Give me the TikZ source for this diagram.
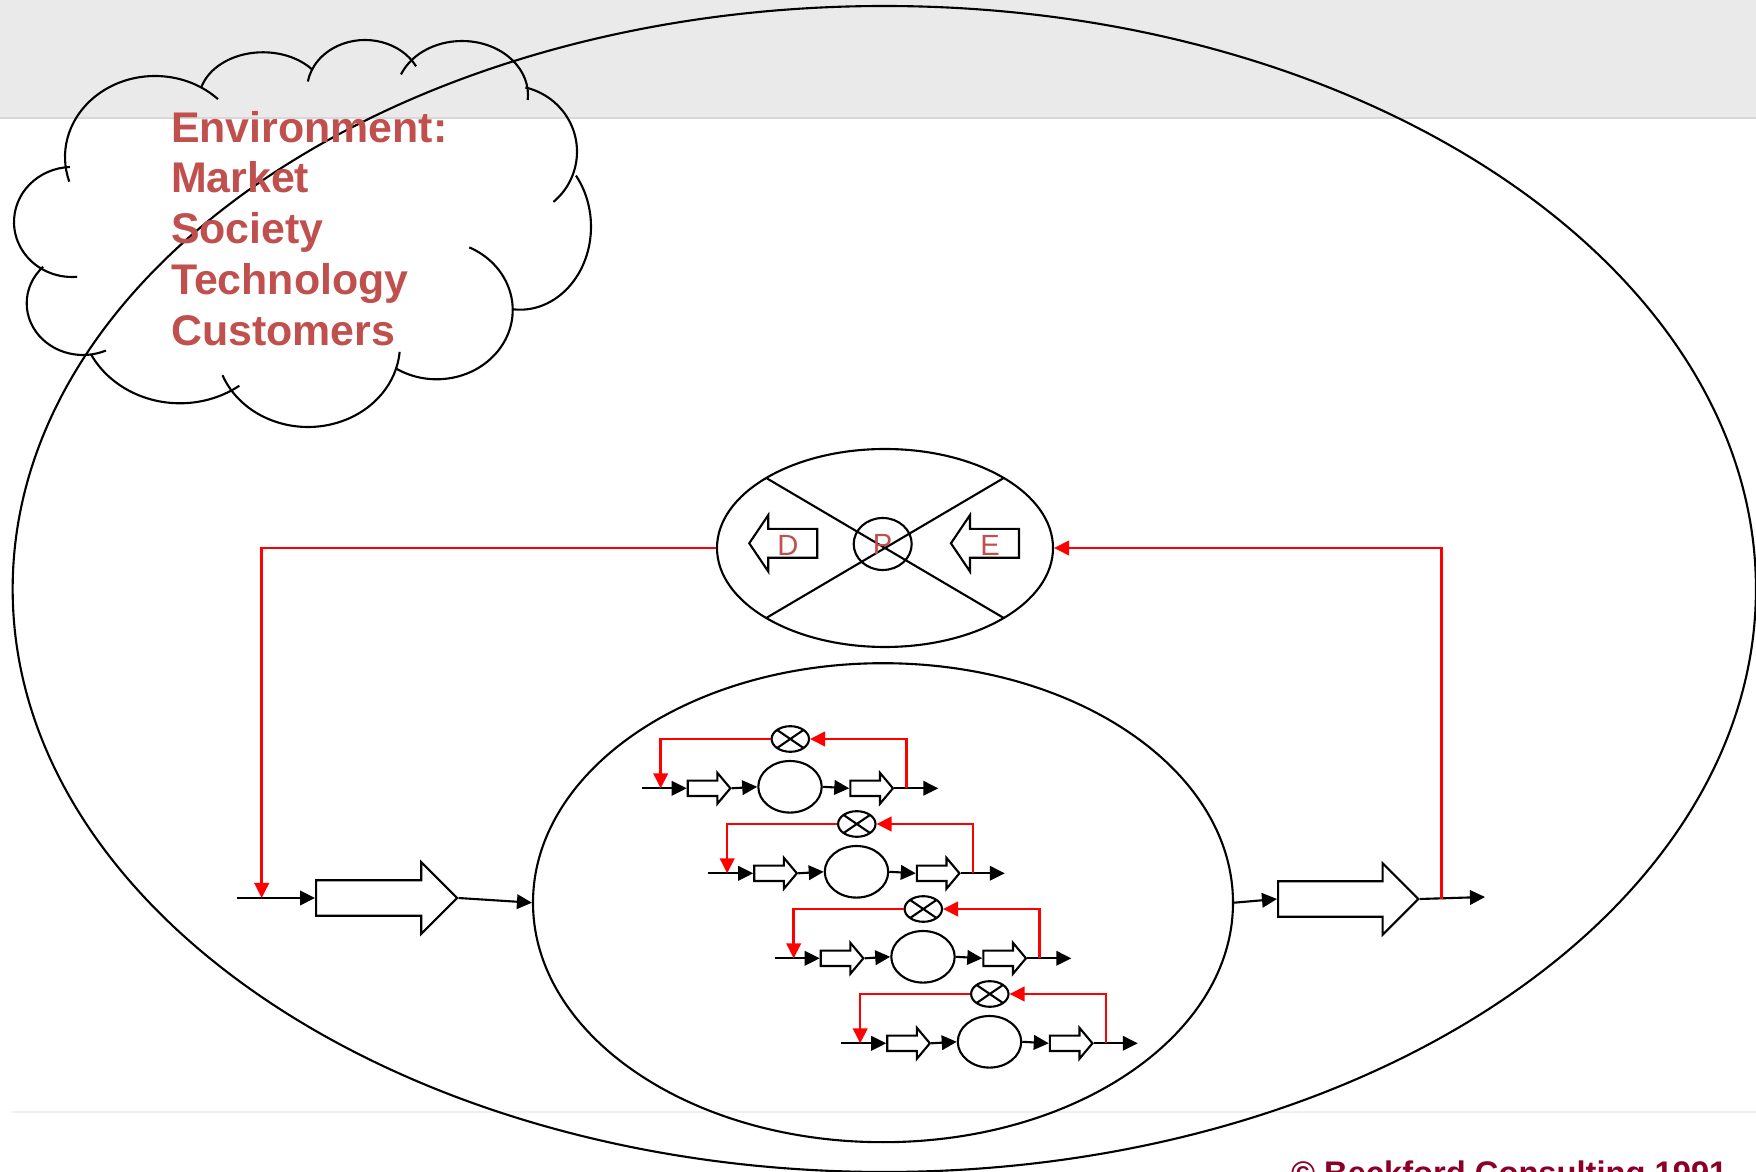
\documentclass[tikz,border=0pt]{standalone}
\usepackage{fontspec}
\setmainfont{Liberation Sans}
\usetikzlibrary{shapes.geometric,shapes.arrows,arrows.meta}
\definecolor{envred}{RGB}{192,80,77}
\definecolor{loopred}{RGB}{255,0,0}
\definecolor{bandgray}{RGB}{234,234,234}
\definecolor{bandline}{RGB}{216,216,216}
\definecolor{footred}{RGB}{140,0,40}

\begin{document}
\begin{tikzpicture}[x=0.1mm, y=-0.1mm, line width=0.6pt,
  blk/.style={-{Triangle[length=1.5mm,width=1.45mm]}},
  fb/.style={loopred, line width=0.7pt, -{Triangle[length=1.5mm,width=1.45mm]}},
  oval/.style={ellipse, draw, inner sep=0pt},
  xoval/.style={oval, path picture={\draw (path picture bounding box.north west) -- (path picture bounding box.south east) (path picture bounding box.north east) -- (path picture bounding box.south west);}},
  blockarrow/.style={single arrow, draw, inner xsep=0pt, inner ysep=1.67mm, anchor=tail, single arrow tip angle=90, single arrow head extend=1.8mm},
  minarrow/.style={single arrow, draw, inner xsep=0pt, inner ysep=0.665mm, anchor=tail, single arrow tip angle=100, single arrow head extend=0.77mm, minimum height=4.26mm},
  backarrow/.style={single arrow, draw, inner xsep=0pt, inner ysep=1.335mm, anchor=tail, rotate=180, single arrow tip angle=112, single arrow head extend=1.38mm, minimum height=6.8mm},
  letter/.style={text=envred, inner sep=0pt, font=\fontsize{8.3}{10}\selectfont}]
  \useasboundingbox (0,0) rectangle (1756,1172);
  \fill[bandgray] (0,0) rectangle (1756,118);
  \draw[bandline, line width=0.3pt] (0,118) -- (1756,118);
  \draw[gray!12, line width=0.3pt] (12,1112) -- (1756,1112);

  \node[oval, minimum width=174.33mm, minimum height=116.6mm] (system) at (884.3,589) {};

  \foreach \cx/\cy/\ax/\ay/\sa/\ea in {155/157/90/81/-45.6/-197.7, 72/222/58/55/-92/-275,
      83/303.3/56.3/51.7/225/66, 180/313.3/100/90/152.8/53.6, 308/345/92/82/158.4/4.8,
      436.7/310/76/69.3/-64.6/123, 520/226.7/71/83/95.7/-38, 510/151.7/67/66/49.6/-76.7,
      462/95/66/54/5.3/-157.6, 365/90/58/50/-28.3/-170.2, 263/100/64/47.7/-39/-164.2}
    \draw (\cx,\cy) ++(\sa:{\ax} and {\ay}) arc[start angle=\sa, end angle=\ea, x radius=\ax, y radius=\ay];
  \node[anchor=north west, inner sep=0pt, align=left, text=envred,
    font=\bfseries\fontsize{12.2}{14.45}\selectfont] (envtxt) at (170,110)
    {Environment:\\Market\\Society\\Technology\\Customers};

  \node[xoval, minimum width=33.6mm, minimum height=19.8mm] (dpe) at (885,548) {};
  \node[oval, minimum width=5.8mm, minimum height=5.2mm, text=envred,
    font=\fontsize{8.3}{10}\selectfont] (pcore) at (882.7,544) {P};
  \node[backarrow] (darr) at (818.3,543.3) {};
  \node[backarrow] (earr) at (1020,543.3) {};
  \node[letter] (dlbl) at (788,545) {D};
  \node[letter] (elbl) at (990,545) {E};

  \node[oval, minimum width=70mm, minimum height=47.9mm] (ops) at (883,902.7) {};
  \node[blockarrow, minimum height=14.1mm] (inarr) at (315,898) {};
  \node[blockarrow, minimum height=14.03mm] (outarr) at (1277,899) {};
  \coordinate (src) at (236.7,898);
  \coordinate (snk) at (1485,897);
  \coordinate (tapin) at (261.7,898);
  \coordinate (tapout) at (1441.7,899);
  \draw[blk] (src) -- (inarr.tail);
  \draw[blk] (inarr.tip) -- (ops.west);
  \draw[blk] (ops.east) -- (outarr.tail);
  \draw[blk] (outarr.tip) -- (snk);
  \draw[fb] (dpe.west) -| (tapin);
  \draw[fb] (tapout) |- (dpe.east);

  \foreach \k in {0,...,3}{
    \pgfmathsetmacro\rowx{641.7+66.5*\k}
    \pgfmathsetmacro\rowy{788.3+85*\k}
    \coordinate (in\k) at (\rowx,\rowy);
    \coordinate (out\k) at (\rowx+296.6,\rowy);
    \coordinate (tap\k) at (\rowx+265,\rowy);
    \coordinate (fin\k) at (\rowx+19,\rowy);
    \node[minarrow] (sa\k) at (\rowx+45,\rowy) {};
    \node[oval, minimum width=6.34mm, minimum height=5.16mm] (proc\k) at (\rowx+148.3,\rowy-1.5) {};
    \node[minarrow] (sb\k) at (\rowx+207.6,\rowy) {};
    \node[xoval, minimum width=3.74mm, minimum height=2.56mm] (cmp\k) at (\rowx+148.6,\rowy-49.3) {};
    \draw[blk] (in\k) -- (sa\k.tail);
    \draw[blk] (sa\k.tip) -- (proc\k.west);
    \draw[blk] (proc\k.east) -- (sb\k.tail);
    \draw[blk] (sb\k.tip) -- (out\k);
    \draw[fb] (tap\k) |- (cmp\k.east);
    \draw[fb] (cmp\k.west) -| (fin\k);
  }

  \node[anchor=base west, inner sep=0pt, text=footred,
    font=\bfseries\fontsize{9.3}{11}\selectfont] (credit) at (1290,1185)
    {© Beckford Consulting 1991 - 2};
\end{tikzpicture}
\end{document}
